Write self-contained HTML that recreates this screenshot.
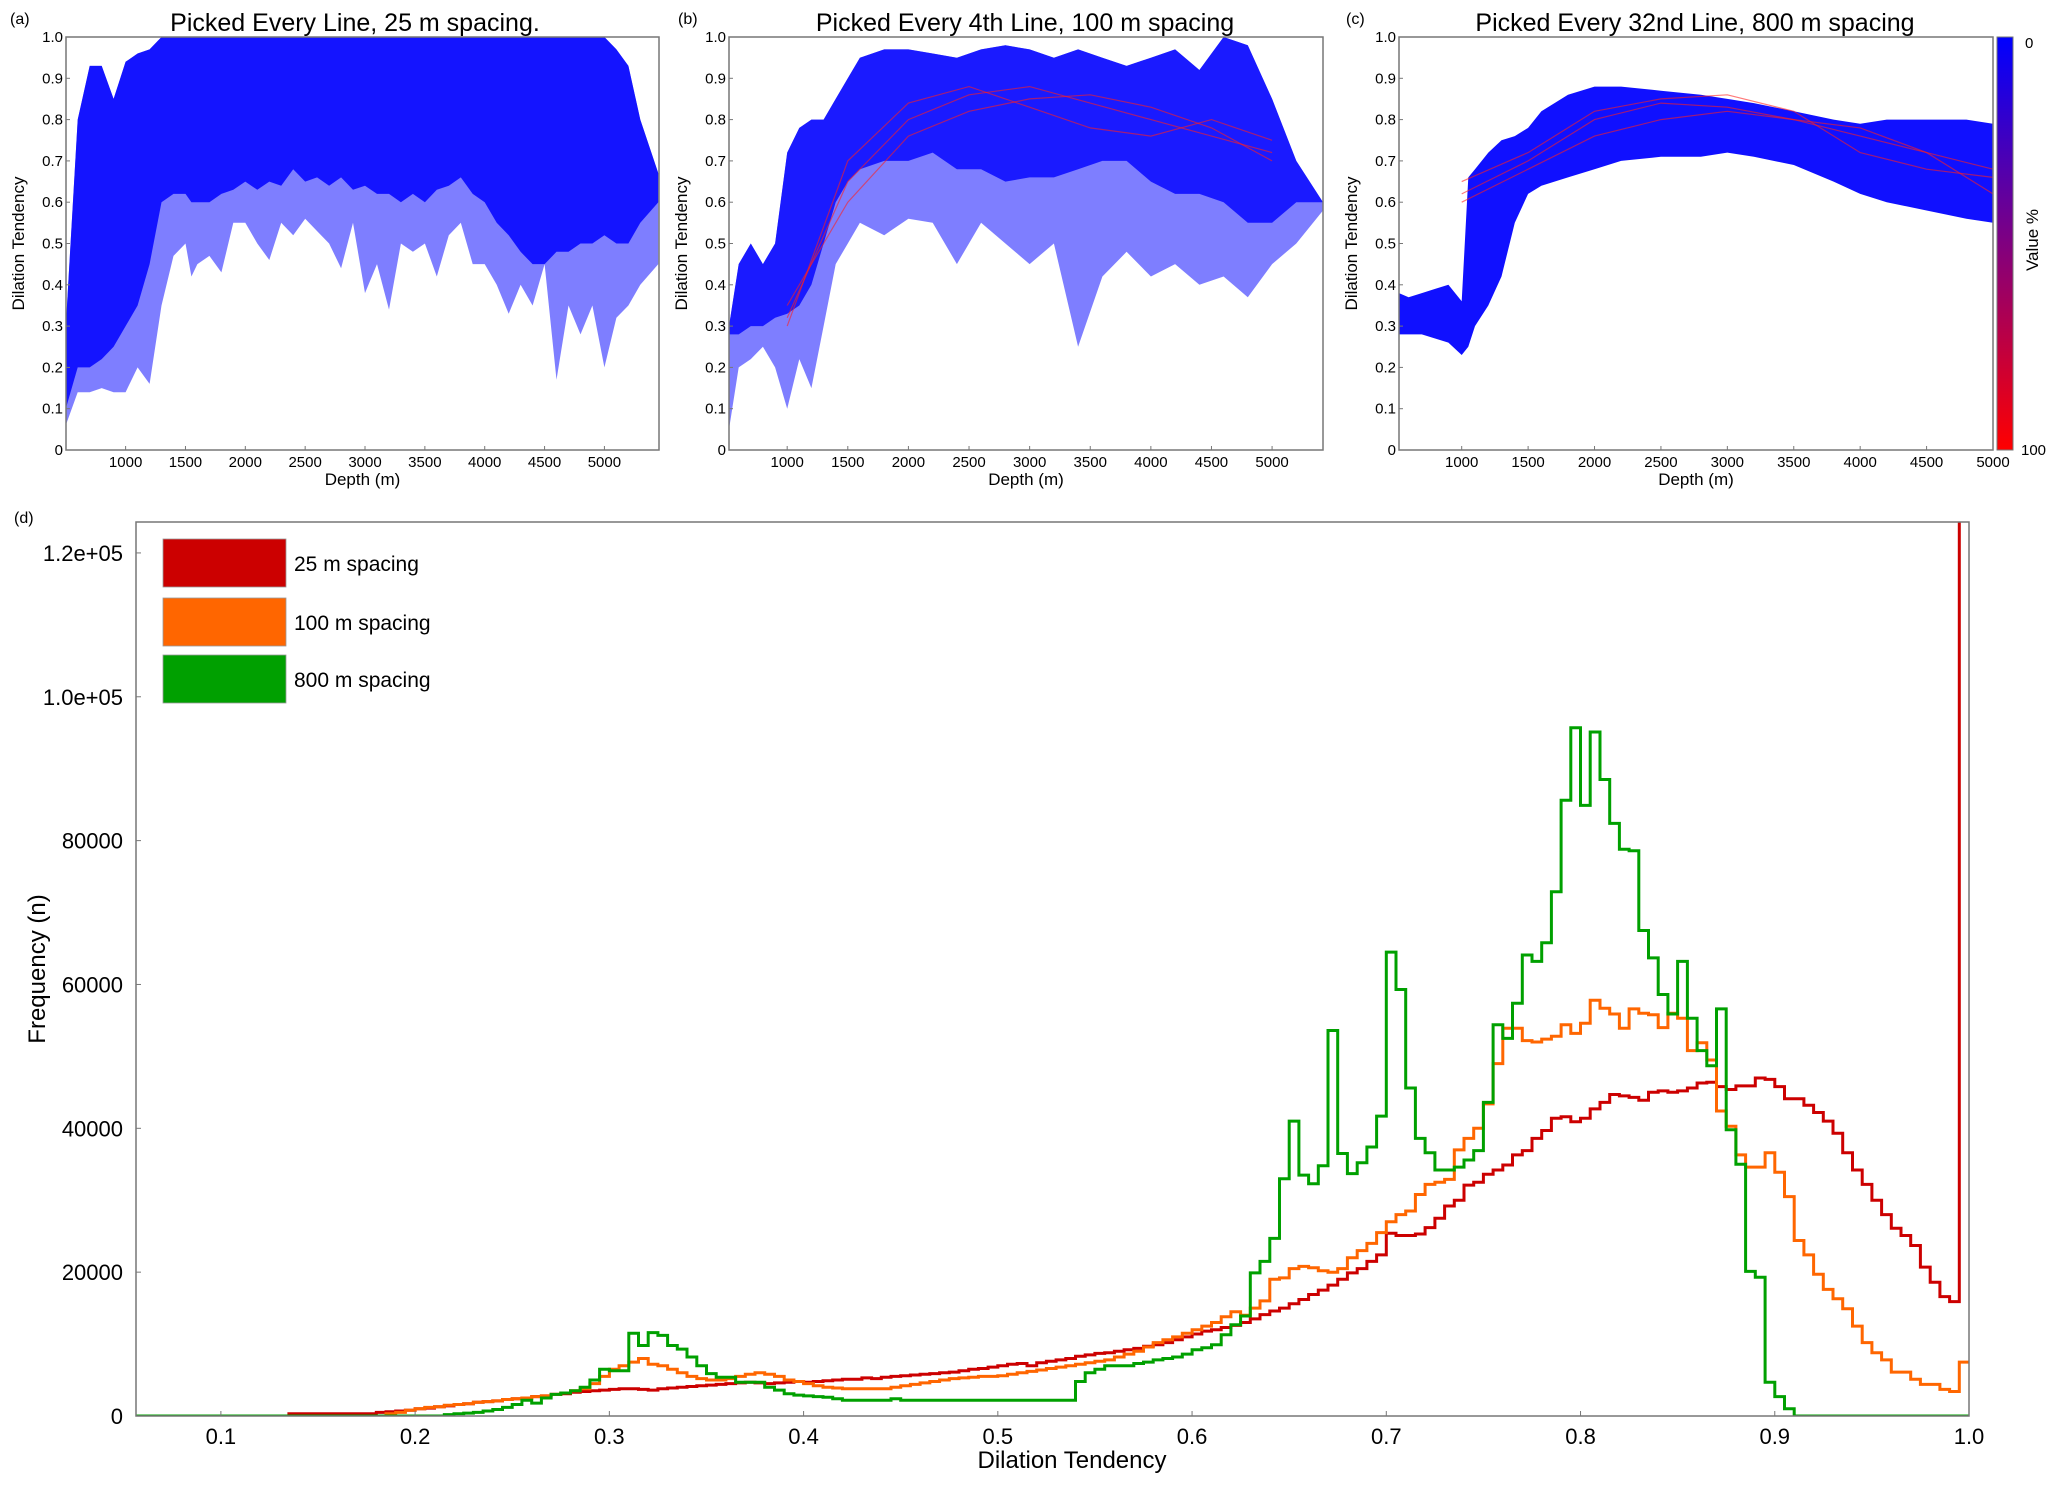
<!DOCTYPE html>
<html><head><meta charset="utf-8"><style>
html,body{margin:0;padding:0;background:#fff;}
svg{display:block;font-family:"Liberation Sans",sans-serif;}
</style></head><body>
<svg id="fig" width="2067" height="1487" viewBox="0 0 2067 1487" xmlns="http://www.w3.org/2000/svg">
<defs>
<linearGradient id="cbgrad" x1="0" y1="0" x2="0" y2="1"><stop offset="0" stop-color="#0000ff"/><stop offset="0.5" stop-color="#800080"/><stop offset="1" stop-color="#ff0000"/></linearGradient>
<clipPath id="clipD"><rect x="136" y="522" width="1833" height="894"/></clipPath>
</defs>
<g id="topPanels"></g>
<g id="hist"></g>
</svg>
<script>
// ---------- Histogram data (d) ----------
const binStart0 = 0.055;
const binWidth = 0.005;
const seriesNames = ["25 m spacing","100 m spacing","800 m spacing"];
// values in thousands per bin
const red25 = [0,0,0,0,0,0,0,0,0,0,0,0,0,0,0,0, 0.3,0.3,0.3,0.3,0.3,0.3,0.3,0.3,0.3, 0.5,0.6,0.7,0.8,
1.0,1.1,1.3,1.4,1.6,1.7,1.9,2.0,2.1,2.3,2.4,2.5,2.7,2.8,3.0,3.1,3.3,3.4,3.5,3.6,
3.7,3.8,3.8,3.7,3.6,3.8,3.9,4.0,4.1,4.2,4.3,4.4,4.5,4.6,4.7,4.6,4.5,4.6,4.7,4.8,
4.7,4.8,4.9,5.0,5.1,5.1,5.3,5.2,5.4,5.5,5.6,5.7,5.8,5.9,6.0,6.1,6.3,6.5,6.6,6.8,
7.0,7.2,7.3,7.0,7.4,7.6,7.8,8.0,8.3,8.5,8.7,8.8,9.0,9.2,9.4,9.7,9.9,10.2,10.6,11.0,
11.4,11.8,12.0,12.3,12.6,13.0,13.5,14.1,14.6,15.0,15.6,16.2,16.9,17.5,18.2,19.0,19.9,20.5,21.5,22.4,
25.4,25.1,25.1,25.3,26.2,27.5,29.2,30.0,32.1,32.5,33.6,34.2,34.9,36.3,36.9,38.6,39.7,41.4,41.6,40.9,
41.4,42.7,43.6,44.7,44.5,44.3,43.9,45.0,45.2,45.0,45.2,45.6,46.3,46.4,45.8,45.4,45.9,45.9,47.0,46.8,
45.8,44.1,44.1,43.2,42.2,41.0,39.3,36.6,34.2,32.2,30.0,28.0,26.1,25.1,23.7,20.7,18.6,16.6,15.9,200];
const orange100 = [0,0,0,0,0,0,0,0,0,0,0,0,0,0,0,0,0,0,0,0,0,0,0,0,0,0, 0.3,0.5,0.8,
1.0,1.2,1.3,1.5,1.6,1.7,1.9,2.0,2.1,2.3,2.4,2.5,2.7,2.8,3.0,3.2,3.5,3.8,4.5,5.5,
6.5,7.0,7.5,8.0,7.2,7.0,6.5,6.0,5.5,5.2,5.0,5.0,5.2,5.5,5.8,6.0,5.8,5.5,5.0,4.8,
4.5,4.2,4.0,3.9,3.8,3.8,3.8,3.8,3.8,4.0,4.2,4.4,4.6,4.8,5.0,5.2,5.3,5.4,5.5,5.5,
5.6,5.8,6.0,6.2,6.4,6.6,6.8,7.0,7.2,7.4,7.6,7.8,8.2,8.6,9.0,9.6,10.2,10.6,11.0,11.5,
12.0,12.5,13.0,13.8,14.5,14.0,15.0,16.0,19.0,19.2,20.5,20.8,20.6,20.2,20.0,20.5,22.0,23.0,24.0,25.5,
27.0,28.0,28.5,30.8,32.2,32.5,32.9,37.0,38.6,40.0,43.4,49.0,53.9,53.9,52.2,52.0,52.4,52.8,54.4,53.2,
54.6,57.8,56.7,55.9,53.9,56.6,56.0,55.8,54.0,56.0,55.3,50.8,51.9,49.5,42.4,40.3,36.3,34.6,34.6,36.6,
33.9,30.5,24.4,22.4,19.7,17.6,16.3,14.9,12.5,10.2,8.8,7.8,6.1,6.1,5.1,4.4,4.4,3.7,3.4,7.5];
const green800 = [0,0,0,0,0,0,0,0,0,0,0,0,0,0,0,0,0,0,0,0,0,0,0,0,0,0,0,0,0,
0,0,0,0.2,0.3,0.4,0.5,0.7,0.9,1.2,1.6,2.2,1.8,2.5,3.0,3.2,3.5,4.0,5.0,6.5,
6.3,6.3,11.5,9.8,11.6,11.2,9.8,9.3,8.2,7.0,5.9,5.4,5.4,4.7,4.7,4.7,4.0,3.6,3.1,2.9,
2.8,2.7,2.6,2.4,2.2,2.2,2.2,2.2,2.2,2.4,2.2,2.2,2.2,2.2,2.2,2.2,2.2,2.2,2.2,2.2,
2.2,2.2,2.2,2.2,2.2,2.2,2.2,2.2,4.8,6.0,6.5,7.0,7.0,7.0,7.3,7.5,7.8,8.0,8.2,8.6,
9.2,9.5,9.9,11.3,12.7,13.9,19.9,21.5,24.7,33.0,41.0,33.5,32.3,34.8,53.6,36.5,33.7,35.2,37.4,41.7,
64.5,59.3,45.6,38.6,36.6,34.2,34.2,34.6,35.6,36.9,43.6,54.4,52.5,57.4,64.1,63.2,65.8,72.9,85.6,95.7,
84.9,95.1,88.5,82.4,78.8,78.6,67.5,63.7,58.6,55.9,63.2,55.3,50.8,48.7,56.6,39.8,35.0,20.1,19.3,4.7,
2.7,1.0,0,0,0,0,0,0,0,0,0,0,0,0,0,0,0,0,0,0];
const xTicksD = [0.1,0.2,0.3,0.4,0.5,0.6,0.7,0.8,0.9,1.0];
const xTickLabelsD = ["0.1","0.2","0.3","0.4","0.5","0.6","0.7","0.8","0.9","1.0"];
const yTicksD = [0,20000,40000,60000,80000,100000,120000];
const yTickLabelsD = ["0","20000","40000","60000","80000","1.0e+05","1.2e+05"];

// ---------- Top panel envelope data ----------
const depthA = [500,600,700,800,900,1000,1100,1200,1300,1400,1500,1550,1600,1700,1800,1900,2000,2100,2200,2300,2400,2500,2600,2700,2800,2900,3000,3100,3200,3300,3400,3500,3600,3700,3800,3900,4000,4100,4200,4300,4400,4500,4600,4700,4800,4900,5000,5100,5200,5300,5450];
const upperA = [0.3,0.8,0.93,0.93,0.85,0.94,0.96,0.97,1,1,1,1,1,1,1,1,1,1,1,1,1,1,1,1,1,1,1,1,1,1,1,1,1,1,1,1,1,1,1,1,1,1,1,1,1,1,1,0.97,0.93,0.8,0.67];
const denseLowA = [0.1,0.2,0.2,0.22,0.25,0.3,0.35,0.45,0.6,0.62,0.62,0.6,0.6,0.6,0.62,0.63,0.65,0.63,0.65,0.64,0.68,0.65,0.66,0.64,0.66,0.63,0.64,0.62,0.62,0.6,0.62,0.6,0.63,0.64,0.66,0.62,0.6,0.55,0.52,0.48,0.45,0.45,0.48,0.48,0.5,0.5,0.52,0.5,0.5,0.55,0.6];
const fringeLowA = [0.06,0.14,0.14,0.15,0.14,0.14,0.2,0.16,0.35,0.47,0.5,0.42,0.45,0.47,0.43,0.55,0.55,0.5,0.46,0.55,0.52,0.56,0.53,0.5,0.44,0.55,0.38,0.45,0.34,0.5,0.48,0.5,0.42,0.52,0.55,0.45,0.45,0.4,0.33,0.4,0.35,0.45,0.17,0.35,0.28,0.35,0.2,0.32,0.35,0.4,0.45];
const depthB = [520,600,700,800,900,1000,1100,1200,1300,1400,1500,1600,1800,2000,2200,2400,2600,2800,3000,3200,3400,3600,3800,4000,4200,4400,4600,4800,5000,5200,5420];
const upperB = [0.3,0.45,0.5,0.45,0.5,0.72,0.78,0.8,0.8,0.85,0.9,0.95,0.97,0.97,0.96,0.95,0.97,0.98,0.97,0.95,0.97,0.95,0.93,0.95,0.97,0.92,1.0,0.98,0.85,0.7,0.6];
const denseLowB = [0.28,0.28,0.3,0.3,0.32,0.33,0.35,0.4,0.5,0.6,0.65,0.68,0.7,0.7,0.72,0.68,0.68,0.65,0.66,0.66,0.68,0.7,0.7,0.65,0.62,0.62,0.6,0.55,0.55,0.6,0.6];
const fringeLowB = [0.05,0.2,0.22,0.25,0.2,0.1,0.22,0.15,0.3,0.45,0.5,0.55,0.52,0.56,0.55,0.45,0.55,0.5,0.45,0.5,0.25,0.42,0.48,0.42,0.45,0.4,0.42,0.37,0.45,0.5,0.58];
const redDepthB = [1000,1500,2000,2500,3000,3500,4000,4500,5000];
const redLinesB = [[0.32,0.65,0.8,0.86,0.88,0.84,0.8,0.76,0.72],[0.35,0.6,0.76,0.82,0.85,0.86,0.83,0.78,0.7],[0.3,0.7,0.84,0.88,0.83,0.78,0.76,0.8,0.75]];
const depthC = [528,600,700,800,900,1000,1050,1100,1200,1300,1400,1500,1600,1800,2000,2200,2500,2800,3000,3200,3500,3800,4000,4200,4500,4800,5000];
const upperC = [0.38,0.37,0.38,0.39,0.4,0.36,0.66,0.68,0.72,0.75,0.76,0.78,0.82,0.86,0.88,0.88,0.87,0.86,0.85,0.84,0.82,0.8,0.79,0.8,0.8,0.8,0.79];
const lowerC = [0.28,0.28,0.28,0.27,0.26,0.23,0.25,0.3,0.35,0.42,0.55,0.62,0.64,0.66,0.68,0.7,0.71,0.71,0.72,0.71,0.69,0.65,0.62,0.6,0.58,0.56,0.55];
const redDepthC = [1000,1500,2000,2500,3000,3500,4000,4500,5000];
const redLinesC = [[0.62,0.7,0.8,0.84,0.83,0.8,0.76,0.72,0.68],[0.6,0.68,0.76,0.8,0.82,0.8,0.78,0.72,0.62],[0.65,0.72,0.82,0.85,0.86,0.82,0.72,0.68,0.66]];
const depthTicks = [1000,1500,2000,2500,3000,3500,4000,4500,5000];
const dtTicks = [0,0.1,0.2,0.3,0.4,0.5,0.6,0.7,0.8,0.9,1.0];
const dtTickLabels = ["0","0.1","0.2","0.3","0.4","0.5","0.6","0.7","0.8","0.9","1.0"];

const NS = "http://www.w3.org/2000/svg";
function mk(tag, attrs, parent, text){
  const e = document.createElementNS(NS, tag);
  for (const k in attrs) e.setAttribute(k, attrs[k]);
  if (text !== undefined) e.textContent = text;
  parent.appendChild(e);
  return e;
}
const topG = document.getElementById('topPanels');
const histG = document.getElementById('hist');

// ---------- Top panels ----------
const panels = [
 {key:'a', L:66, R:659, dmin:502, dmax:5456, title:"Picked Every Line, 25 m spacing.", tx:355, lx:10},
 {key:'b', L:729, R:1323, dmin:520, dmax:5420, title:"Picked Every 4th Line, 100 m spacing", tx:1025, lx:678},
 {key:'c', L:1399, R:1993, dmin:528, dmax:5000, title:"Picked Every 32nd Line, 800 m spacing", tx:1695, lx:1346}
];
const PT = 37, PB = 450;
panels.forEach(p=>{
  const g = mk('g',{}, topG);
  
  
  const xs = d => p.L + (d - p.dmin)/(p.dmax - p.dmin)*(p.R - p.L);
  const ys = v => PB - v*(PB - PT);
  function poly(depths, up, low, fill, name){
    let pts = depths.map((d,i)=> xs(d).toFixed(1)+','+ys(up[i]).toFixed(1));
    for (let i=depths.length-1;i>=0;i--) pts.push(xs(depths[i]).toFixed(1)+','+ys(low[i]).toFixed(1));
    const e = mk('polygon',{points:pts.join(' '), fill:fill}, g);
    
    
  }
  function lines(depths, arr, name){
    arr.forEach(vals=>{
      const d = vals.map((v,i)=>(i?'L':'M')+xs(depths[i]).toFixed(1)+' '+ys(v).toFixed(1)).join(' ');
      const e = mk('path',{d:d, fill:'none', stroke:'#ff2020', 'stroke-width':1.2, 'stroke-opacity':0.6}, g);
      
      
    });
  }
  if (p.key==='a'){
    poly(depthA, upperA, fringeLowA, 'rgba(20,20,255,0.55)', 'scatter-fringe');
    poly(depthA, upperA, denseLowA, '#1414ff', 'scatter-dense');
  } else if (p.key==='b'){
    poly(depthB, upperB, fringeLowB, 'rgba(20,20,255,0.55)', 'scatter-fringe');
    poly(depthB, upperB, denseLowB, '#1a1aff', 'scatter-dense');
    lines(redDepthB, redLinesB, 'high-value-line');
  } else {
    poly(depthC, upperC, lowerC, '#1010ff', 'scatter-band');
    lines(redDepthC, redLinesC, 'high-value-line');
  }
  const fr = mk('rect',{x:p.L, y:PT, width:p.R-p.L, height:PB-PT, fill:'none', stroke:'#777', 'stroke-width':1.5}, g);
  
  
  dtTicks.forEach((v,i)=>{
    mk('line',{x1:p.L, x2:p.L+4, y1:ys(v), y2:ys(v), stroke:'#777'}, g);
    const t = mk('text',{x:p.L-3, y:ys(v)+5, 'text-anchor':'end', 'font-size':15, fill:'#000'}, g, dtTickLabels[i]);
    
    
  });
  depthTicks.forEach(d=>{
    if (d < p.dmin || d > p.dmax) return;
    mk('line',{x1:xs(d), x2:xs(d), y1:PB, y2:PB-4, stroke:'#777'}, g);
    const t = mk('text',{x:xs(d), y:PB+17, 'text-anchor':'middle', 'font-size':15, fill:'#000'}, g, String(d));
    
    
  });
  const xt = mk('text',{x:(p.L+p.R)/2, y:PB+35, 'text-anchor':'middle', 'font-size':17, fill:'#000'}, g, 'Depth (m)');
  
  
  const yt = mk('text',{x:0, y:0, transform:'translate('+(p.L-42)+','+((PT+PB)/2)+') rotate(-90)', 'text-anchor':'middle', 'font-size':17, fill:'#000'}, g, 'Dilation Tendency');
  
  
  const tt = mk('text',{x:p.tx, y:31, 'text-anchor':'middle', 'font-size':25, fill:'#000'}, g, p.title);
  
  
  const pl = mk('text',{x:p.lx, y:24, 'font-size':16, fill:'#000'}, g, '('+p.key+')');
  
  
});
// colorbar
const cb = mk('rect',{x:1997, y:37, width:16, height:413, fill:'url(#cbgrad)', stroke:'#777'}, topG);


const cb0 = mk('text',{x:2025, y:48, 'font-size':15}, topG, '0');


const cb1 = mk('text',{x:2021, y:455, 'font-size':15}, topG, '100');


const cbt = mk('text',{x:0, y:0, transform:'translate(2038,240) rotate(-90)', 'text-anchor':'middle', 'font-size':17}, topG, 'Value %');



// ---------- Histogram (d) ----------
const DL = 136, DR = 1969, DT = 522, DB = 1416;
const xMin = 0.0563, xMax = 1.0, yMax = 124300;
const xD = v => DL + (v - xMin)/(xMax - xMin)*(DR - DL);
const yD = v => DB - v/yMax*(DB - DT);
const dl = mk('text',{x:14, y:523, 'font-size':16}, histG, '(d)');


const colors = ["#cc0000","#ff6600","#00a000"];
const seriesVals = [red25, orange100, green800];
const plotG = mk('g',{'clip-path':'url(#clipD)'}, histG);


[0,1,2].forEach(s=>{
  const vals = seriesVals[s];
  let d = 'M' + xD(binStart0).toFixed(1) + ' ' + yD(0).toFixed(1);
  vals.forEach((v,i)=>{
    const x0 = xD(binStart0 + i*binWidth), x1 = xD(binStart0 + (i+1)*binWidth);
    const y = yD(v*1000);
    d += ' L' + x0.toFixed(1) + ' ' + y.toFixed(1) + ' L' + x1.toFixed(1) + ' ' + y.toFixed(1);
  });
  const e = mk('path',{d:d, fill:'none', stroke:colors[s], 'stroke-width':3, 'stroke-linejoin':'miter'}, plotG);
  
  
});
const fd = mk('rect',{x:DL, y:DT, width:DR-DL, height:DB-DT, fill:'none', stroke:'#777', 'stroke-width':1.5}, histG);


xTicksD.forEach((v,i)=>{
  mk('line',{x1:xD(v), x2:xD(v), y1:DB, y2:DB-5, stroke:'#777'}, histG);
  const t = mk('text',{x:xD(v), y:DB+28, 'text-anchor':'middle', 'font-size':22}, histG, xTickLabelsD[i]);
  
  
});
yTicksD.forEach((v,i)=>{
  mk('line',{x1:DL, x2:DL+5, y1:yD(v), y2:yD(v), stroke:'#777'}, histG);
  const t = mk('text',{x:123, y:yD(v)+8, 'text-anchor':'end', 'font-size':22}, histG, yTickLabelsD[i]);
  
  
});
const xtd = mk('text',{x:1072, y:1468, 'text-anchor':'middle', 'font-size':24}, histG, 'Dilation Tendency');


const ytd = mk('text',{x:0, y:0, transform:'translate(45,969) rotate(-90)', 'text-anchor':'middle', 'font-size':24}, histG, 'Frequency (n)');


// legend
const legFills = ["#cc0000","#ff6600","#00a000"];
const legY = [539, 598, 655];
seriesNames.forEach((n,i)=>{
  const g = mk('g',{}, histG);
  
  
  mk('rect',{x:163, y:legY[i], width:123, height:48, fill:legFills[i], stroke:'#999', 'stroke-width':0.8}, g);
  mk('text',{x:294, y:legY[i]+32, 'font-size':21}, g, n);
});
</script>
</body></html>
